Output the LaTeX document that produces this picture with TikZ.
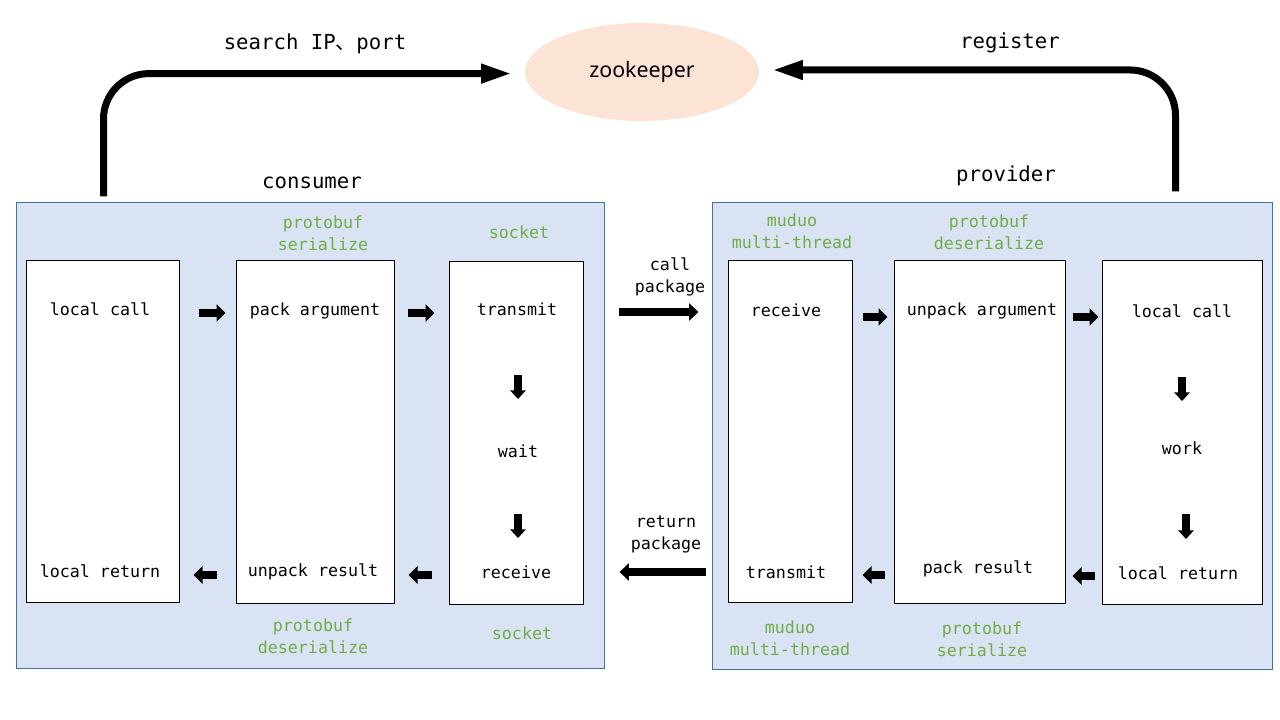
\documentclass[tikz,border=0pt]{standalone}
\usepackage{fontspec}
\setmainfont{DejaVu Sans Mono}
\newfontfamily\cjk{Noto Sans CJK SC}
\newfontfamily\zkfont{Noto Sans}
\usetikzlibrary{arrows.meta,shapes.geometric,fit}
\definecolor{panelfill}{HTML}{DAE3F3}
\definecolor{panelline}{HTML}{41719C}
\definecolor{zkfill}{HTML}{FBE3D5}
\definecolor{notegreen}{HTML}{70AD47}
\begin{document}
\begin{tikzpicture}[x=0.75pt,y=-0.75pt,
  panel/.style={draw=panelline, fill=panelfill, line width=0.75pt, inner sep=0pt},
  box/.style={draw=black, fill=white, line width=0.75pt, inner sep=0pt},
  txt/.style={font=\fontsize{12.5}{16.5}\selectfont, text=black, align=center, inner sep=0pt},
  note/.style={txt, text=notegreen},
  ttl/.style={font=\fontsize{15.5}{19}\selectfont, inner sep=0pt},
  bigarrow/.style={line width=5.25pt, -{Triangle[length=23pt,width=13.5pt]}, rounded corners=34pt},
  blk/.style={line width=6.5pt, -{Triangle[length=6.75pt,width=12.75pt]}},
  blkv/.style={line width=5.5pt, -{Triangle[length=6.5pt,width=11.5pt]}},
  midarrow/.style={line width=6.5pt, -{Triangle[length=7pt,width=12.75pt]}},
]
\useasboundingbox (0,0) rectangle (1280,720);
\fill[white] (0,0) rectangle (1280,720);

% zookeeper
\node[ellipse, fill=zkfill, minimum width=175.5pt, minimum height=73.5pt, inner sep=0pt,
      font=\zkfont\fontsize{16}{19}\selectfont] (zk) at (642,72) {zookeeper};

% panels
\node[panel, fit={(16,203) (604,668)}] (cons) {};
\node[panel, fit={(712,203) (1272,669)}] (prov) {};

% boxes
\node[box, fit={(26,260) (179,602)}] (b1) {};
\node[box, fit={(236,260) (394,603)}] (b2) {};
\node[box, fit={(449,261) (583,604)}] (b3) {};
\node[box, fit={(728,260) (852,602)}] (b4) {};
\node[box, fit={(894,260) (1065,603)}] (b5) {};
\node[box, fit={(1102,260) (1262,604)}] (b6) {};

% titles
\node[ttl] (tcons) at (312,183) {consumer};
\node[ttl] (tprov) at (1006,176) {provider};
\node[ttl] (tsearch) at (315,44) {search IP{\cjk 、}port};
\node[ttl] (treg) at (1010,43) {register};

% green notes
\node[note] (n1) at (323,233) {protobuf\\serialize};
\node[note] (n2) at (519,232) {socket};
\node[note] (n3) at (792,231) {muduo\\multi-thread};
\node[note] (n4) at (989,232) {protobuf\\deserialize};
\node[note] (n5) at (313,636) {protobuf\\deserialize};
\node[note] (n6) at (522,633) {socket};
\node[note] (n7) at (790,638) {muduo\\multi-thread};
\node[note] (n8) at (982,639) {protobuf\\serialize};

% box texts
\node[txt] (lc1) at (100,309) {local call};
\node[txt] (pa) at (315,311) {pack argument};
\node[txt] (tr1) at (517,309) {transmit};
\node[txt] (wt) at (518,451) {wait};
\node[txt] (rc1) at (516,572) {receive};
\node[txt] (lr1) at (100,571) {local return};
\node[txt] (ur) at (313,572) {unpack result};
\node[txt] (rc2) at (786,310) {receive};
\node[txt] (ua) at (982,311) {unpack argument};
\node[txt] (lc2) at (1182,311) {local call};
\node[txt] (wk) at (1182,448) {work};
\node[txt] (lr2) at (1178,573) {local return};
\node[txt] (pr) at (978,569) {pack result};
\node[txt] (tr2) at (786,572) {transmit};

% middle labels
\node[txt] (cp) at (670,277) {call\\package};
\node[txt] (rp) at (666,534) {return\\package};

% row coordinates
\coordinate (r1) at (0,313);
\coordinate (r2) at (0,317);
\coordinate (r3) at (0,575);
\coordinate (r4) at (0,576);
\coordinate (r5) at (0,312);
\coordinate (r6) at (0,572);

% small right arrows
\draw[blk, shorten <=14.25pt, shorten >=7.5pt] (b1.east |- r1) -- (b2.west |- r1);
\draw[blk, shorten <=9.75pt, shorten >=10.5pt] (b2.east |- r1) -- (b3.west |- r1);
\draw[blk, shorten <=7.5pt, shorten >=4.5pt] (b4.east |- r2) -- (b5.west |- r2);
\draw[blk, shorten <=5.25pt, shorten >=2.25pt] (b5.east |- r2) -- (b6.west |- r2);
% small left arrows
\draw[blk, shorten <=14.25pt, shorten >=10.5pt] (b2.west |- r3) -- (b1.east |- r3);
\draw[blk, shorten <=12.75pt, shorten >=10.5pt] (b3.west |- r3) -- (b2.east |- r3);
\draw[blk, shorten <=6.75pt, shorten >=7.5pt] (b5.west |- r3) -- (b4.east |- r3);
\draw[blk, shorten <=5.25pt, shorten >=5.25pt] (b6.west |- r4) -- (b5.east |- r4);
% down arrows
\draw[blkv, shorten <=49.5pt, shorten >=39pt] (tr1.center -| wt) -- (wt.center);
\draw[blkv, shorten <=47.25pt, shorten >=25.5pt] (wt.center) -- (wt.center |- rc1);
\draw[blkv, shorten <=49.5pt, shorten >=35.25pt] (lc2.center -| wk) -- (wk.center);
\draw[blkv, shorten <=49.5pt, shorten >=25.5pt] ([xshift=3pt]wk.center) -- ([xshift=3pt]wk.center |- lr2);

% call / return package
\draw[midarrow, shorten <=26.25pt, shorten >=21.75pt] (b3.east |- r5) -- (b4.west |- r5);
\draw[midarrow, shorten <=16.5pt, shorten >=27pt] (b4.west |- r6) -- (b3.east |- r6);

% big arrows to zookeeper
\draw[bigarrow, shorten >=9.75pt] ([shift={(88,-6)}]cons.north west) |- ([yshift=-1.2pt]zk.west);
\draw[bigarrow, shorten >=9.75pt] ([shift={(-97,-11)}]prov.north east) |- ([yshift=1.5pt]zk.east);
\end{tikzpicture}
\end{document}
